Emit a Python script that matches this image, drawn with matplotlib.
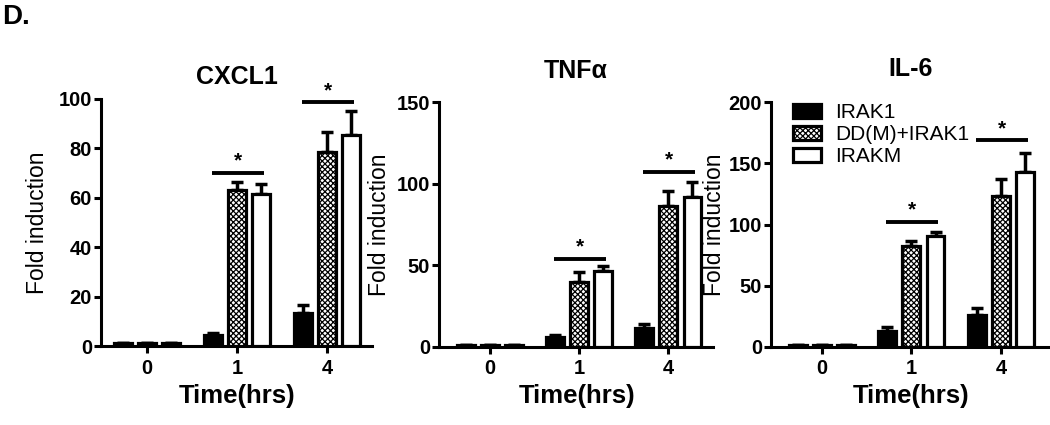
import numpy as np
import matplotlib.pyplot as plt
from matplotlib.patches import Patch

plt.rcParams['font.family'] = ['Liberation Sans', 'DejaVu Sans']
plt.rcParams['hatch.linewidth'] = 0.9

# data
times = ['0', '1', '4']
series = ['IRAK1', 'DD(M)+IRAK1', 'IRAKM']

cxcl1_irak1 = [1.2, 4.5, 13.5]
cxcl1_dd = [1.2, 63, 78.5]
cxcl1_irakm = [1.2, 61.5, 85.5]
cxcl1_irak1_err = [0, 0.8, 3.0]
cxcl1_dd_err = [0, 3.5, 8.0]
cxcl1_irakm_err = [0, 4.0, 9.5]

tnf_irak1 = [1.5, 6.2, 11.6]
tnf_dd = [1.5, 39.8, 86.5]
tnf_irakm = [1.5, 46.3, 92.0]
tnf_irak1_err = [0, 1.3, 2.4]
tnf_dd_err = [0, 5.9, 9.0]
tnf_irakm_err = [0, 3.5, 9.0]

il6_irak1 = [1.5, 13.3, 26.4]
il6_dd = [1.5, 82.2, 123]
il6_irakm = [1.5, 90.9, 142.6]
il6_irak1_err = [0, 3.0, 5.4]
il6_dd_err = [0, 4.1, 14.0]
il6_irakm_err = [0, 2.7, 15.8]

# significance bars: (group index, y)
cxcl1_sig = [(1, 70), (2, 98.6)]
tnf_sig = [(1, 54), (2, 107)]
il6_sig = [(1, 102), (2, 168.7)]

panels = [
    ('CXCL1', [cxcl1_irak1, cxcl1_dd, cxcl1_irakm],
     [cxcl1_irak1_err, cxcl1_dd_err, cxcl1_irakm_err], cxcl1_sig,
     100, [0, 20, 40, 60, 80, 100]),
    ('TNFα', [tnf_irak1, tnf_dd, tnf_irakm],
     [tnf_irak1_err, tnf_dd_err, tnf_irakm_err], tnf_sig,
     150, [0, 50, 100, 150]),
    ('IL-6', [il6_irak1, il6_dd, il6_irakm],
     [il6_irak1_err, il6_dd_err, il6_irakm_err], il6_sig,
     200, [0, 50, 100, 150, 200]),
]

# axes boxes in pixels (left, right, top, bottom) on a 1050x425 canvas
W, H = 1050, 425
boxes = [(101, 372, 99, 346), (439, 713, 102, 347), (771, 1050, 102, 347)]
xlims = [(-0.51, 2.5), (-0.57, 2.5), (-0.57, 2.55)]
title_y = [77, 71, 69]
ylabel_dx = [52, 48, 45]

fig = plt.figure(figsize=(10.5, 4.25), dpi=100)

offsets = [-0.27, 0, 0.27]
width = 0.2
faces = ['black', 'white', 'white']
hatches = [None, 'xxxxxx', None]
lw = 2.3

for i, (title, vals, errs, sig, ymax, yticks) in enumerate(panels):
    l, r, t, b = boxes[i]
    ax = fig.add_axes([l / W, (H - b) / H, (r - l) / W, (b - t) / H])
    x = np.arange(len(times))
    for k in range(3):
        ax.bar(x + offsets[k], vals[k], width, color=faces[k], edgecolor='black',
               linewidth=lw, hatch=hatches[k], zorder=3)
        ax.errorbar(x + offsets[k], vals[k],
                    yerr=[np.zeros(3), errs[k]], fmt='none', ecolor='black',
                    elinewidth=2.5, capsize=4, capthick=2.5, zorder=2)
    for g, yv in sig:
        ax.plot([g - 0.28, g + 0.3], [yv, yv], color='black', lw=2.8,
                solid_capstyle='butt', clip_on=False)
        ax.text(g + 0.01, yv + ymax * 0.01, '*', ha='center', va='bottom',
                fontsize=15, fontweight='bold')
    ax.set_xlim(*xlims[i])
    ax.set_ylim(0, ymax)
    ax.set_xticks(x)
    ax.set_xticklabels(times)
    ax.set_yticks(yticks)
    for s in ['top', 'right']:
        ax.spines[s].set_visible(False)
    for s in ['left', 'bottom']:
        ax.spines[s].set_linewidth(2.2)
    ax.tick_params(width=2.2, length=5, labelsize=14.5)
    ax.tick_params(axis='y', pad=1.5)
    ax.tick_params(axis='x', pad=4)
    for lab in ax.get_xticklabels() + ax.get_yticklabels():
        lab.set_fontweight('bold')
    ax.set_ylabel('Fold induction', fontsize=16.5)
    ax.yaxis.set_label_coords(-ylabel_dx[i] / (r - l), 0.5)
    fig.text((l + r) / 2 / W, 1 - title_y[i] / H, title, ha='center',
             va='center', fontsize=18, fontweight='bold')
    fig.text((l + r) / 2 / W + 1 / W, 1 - 396 / H, 'Time(hrs)', ha='center',
             va='center', fontsize=18.5, fontweight='bold')

    if i == 2:
        handles = [Patch(facecolor=faces[k], edgecolor='black', linewidth=lw,
                         hatch=hatches[k]) for k in range(3)]
        ax.legend(handles, series, loc='upper left',
                  bbox_to_anchor=(0.05, 1.03), frameon=False, fontsize=15,
                  handlelength=1.35, handleheight=0.65, labelspacing=0.15,
                  handletextpad=0.65, borderaxespad=0)

fig.text(2 / W, 1 - 17 / H, 'D.', ha='left', va='center', fontsize=20,
         fontweight='bold')

fig.savefig('out.png', dpi=100)
